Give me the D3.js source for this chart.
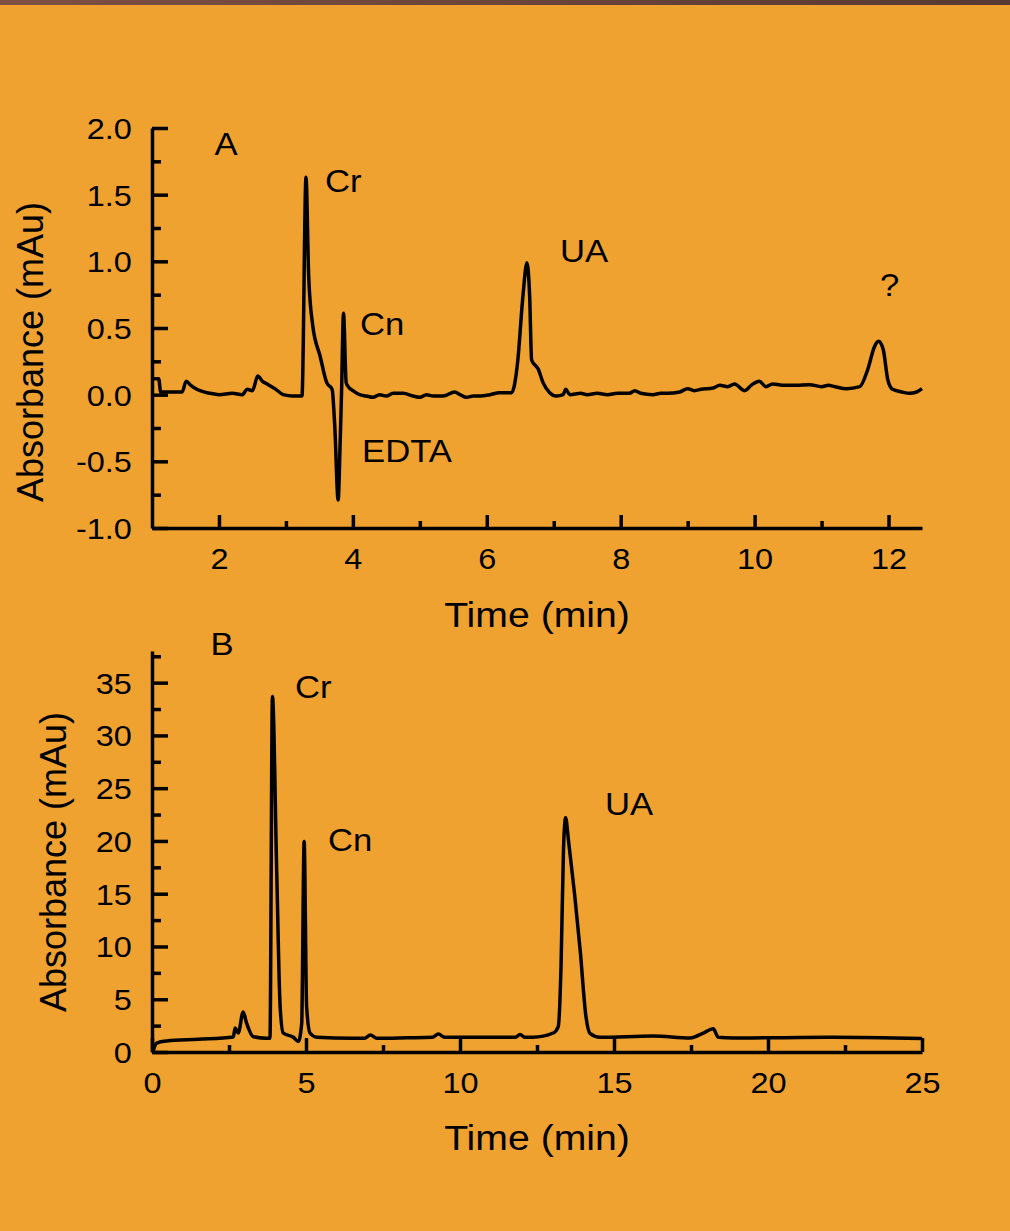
<!DOCTYPE html>
<meta charset="utf-8">
<title>Electropherograms A and B</title>
<style>
    body { margin: 0; background: #efa22f; }
    svg { display: block; }
    text {
        font-family: "Liberation Sans", Arial, sans-serif;
        fill: #000;
    }
    .axis path, .axis line {
        stroke: #000;
        stroke-width: 3.5px;
    }
    .trace {
        fill: none;
        stroke: #000;
        stroke-width: 3.5px;
        stroke-linejoin: round;
    }
</style>

<svg width="1010" height="1231"></svg>

<script src="https://d3js.org/d3.v7.min.js"></script>
<script>

    // panel A (top)
    var timeA = [1.03, 1.1, 1.13, 1.2, 1.35, 1.45, 1.51, 1.58, 1.67, 1.87, 2.0, 2.2, 2.35, 2.42, 2.5, 2.58,
        2.65, 2.72, 2.85, 2.96, 3.1, 3.24, 3.3, 3.34, 3.4, 3.51, 3.61, 3.69, 3.73, 3.78, 3.81, 3.83, 3.86,
        3.9, 3.93, 4.0, 4.1, 4.2, 4.3, 4.4, 4.5, 4.6, 4.75, 4.9, 5.0, 5.1, 5.2, 5.35, 5.52, 5.6, 5.7, 5.8,
        5.9, 6.05, 6.19, 6.37, 6.46, 6.54,
        6.6, 6.64, 6.67, 6.77, 6.84, 6.94, 7.04, 7.14, 7.18, 7.24, 7.4, 7.5, 7.65, 7.8, 7.95, 8.13, 8.21, 8.3,
        8.48, 8.6, 8.7, 8.88, 9.0, 9.1, 9.2, 9.38, 9.48, 9.6, 9.7, 9.85, 9.96, 10.07, 10.17, 10.27, 10.45,
        10.62, 10.82, 11.0, 11.1, 11.2, 11.37, 11.57, 11.69, 11.79, 11.85, 11.92, 11.99, 12.06, 12.2, 12.31,
        12.42, 12.5];
    var absA = [0.12, 0.12, 0.02, 0.02, 0.02, 0.02, 0.1, 0.07, 0.04, 0.01, 0.0, 0.01, 0.0, 0.04, 0.03, 0.14,
        0.1, 0.08, 0.04, 0.0, -0.01, -0.01, 1.63, 0.89, 0.52, 0.29, 0.09, 0.04, -0.24, -0.79, -0.36, 0.0, 0.61,
        0.09, 0.06, 0.03, 0.0, -0.01, -0.02, 0.0, -0.01, 0.01, 0.01, -0.01, -0.02, 0.0, -0.01, -0.01, 0.02,
        0.0, -0.02, -0.01, -0.01, 0.0, 0.015, 0.015, 0.24, 0.74,
        0.99, 0.74, 0.26, 0.19, 0.09, 0.015, -0.01, 0.0, 0.04, 0.0, 0.01, 0.0, 0.01, 0.0, 0.01, 0.01, 0.03,
        0.01, 0.0, 0.01, 0.01, 0.02, 0.045, 0.03, 0.04, 0.05, 0.07, 0.06, 0.08, 0.03, 0.075, 0.1, 0.06, 0.08,
        0.07, 0.07, 0.075, 0.06, 0.07, 0.06, 0.045, 0.06, 0.19, 0.36, 0.4, 0.34, 0.11, 0.04, 0.02, 0.01,
        0.02, 0.045];

    // panel B (bottom)
    var timeB = [0.03, 0.15, 0.48, 1.5, 2.64, 2.7, 2.8, 2.96, 3.07, 3.29, 3.72, 3.83, 3.91, 4.05, 4.16, 4.26,
        4.59, 4.75, 4.86, 4.94, 5.02, 5.13, 5.35, 6.5, 6.9, 7.09, 7.3, 8.3, 9.1, 9.3, 9.5, 10.5, 11.3, 11.8,
        11.95, 12.1, 12.37, 13.03, 13.19, 13.28, 13.36, 13.43, 13.52, 13.9, 14.09, 14.22, 14.55, 16.27,
        17.47, 17.9, 18.22, 18.39, 18.87, 20.5, 22.1, 25.0];
    var absB = [0.0, 0.85, 1.04, 1.2, 1.42, 2.27, 1.8, 3.8, 2.75, 1.45, 1.3, 1.3, 33.7, 17.0, 4.3, 1.8,
        1.4, 1.0, 2.7, 19.95, 4.3, 1.8, 1.4, 1.3, 1.3, 1.6, 1.3, 1.35, 1.4, 1.7, 1.4, 1.4, 1.39, 1.4,
        1.65, 1.4, 1.4, 1.8, 2.4, 8.1, 19.2, 22.2, 20.1, 9.7, 3.35, 1.77, 1.39, 1.52,
        1.33, 1.8, 2.2, 1.39, 1.33, 1.35, 1.39, 1.27];

    var peaksA = [["Cr", 325, 192], ["Cn", 360, 335], ["EDTA", 362, 462], ["UA", 560, 262], ["?", 880, 296]];
    var peaksB = [["Cr", 295, 698], ["Cn", 328, 851], ["UA", 605, 815]];

    var SX = 1.12; // the picture's lettering is a bit wider than Arial

    var svg = d3.select("svg");

    svg.append("rect").attr("width", 1010).attr("height", 1231).attr("fill", "#efa22f");

    var grad = svg.append("defs").append("linearGradient").attr("id", "topbar");
    grad.append("stop").attr("offset", "0").attr("stop-color", "#7f4f43");
    grad.append("stop").attr("offset", "1").attr("stop-color", "#573a31");
    svg.append("rect").attr("width", 1010).attr("height", 5).attr("fill", "url(#topbar)");

    function label(txt, x, y, size, anchor) {
        svg.append("text")
            .attr("transform", "translate(" + x + "," + y + ") scale(" + SX + ",1)")
            .attr("text-anchor", anchor || "start")
            .style("font-size", size + "px")
            .text(txt);
    }

    function panel(opt) {
        var x = d3.scaleLinear().domain(opt.xDomain).range([152, 922]);
        var y = d3.scaleLinear().domain(opt.yDomain).range(opt.yRange);
        var y0 = opt.yRange[0];

        var g = svg.append("g");

        // minor ticks first, so the majors sit on top
        g.append("g").attr("class", "axis")
            .attr("transform", "translate(0," + y0 + ")")
            .call(d3.axisBottom(x).tickValues(opt.xMinor).tickSize(-7).tickSizeOuter(0).tickFormat(""))
            .select(".domain").remove();
        g.append("g").attr("class", "axis")
            .attr("transform", "translate(152,0)")
            .call(d3.axisLeft(y).tickValues(opt.yMinor).tickSize(-9).tickSizeOuter(0).tickFormat(""))
            .select(".domain").remove();

        var gx = g.append("g").attr("class", "axis")
            .attr("transform", "translate(0," + y0 + ")")
            .call(d3.axisBottom(x).tickValues(opt.xMajor).tickSize(-opt.xTick).tickSizeOuter(0).tickFormat(d3.format("d")));
        gx.selectAll("text")
            .attr("y", 41).attr("dy", null)
            .attr("transform", "scale(" + SX + ",1)")
            .style("font-size", "29px");

        var gy = g.append("g").attr("class", "axis")
            .attr("transform", "translate(152,0)")
            .call(d3.axisLeft(y).tickValues(opt.yMajor).tickSize(-16).tickSizeOuter(0).tickFormat(opt.yFormat));
        gy.selectAll("text")
            .attr("x", -18).attr("dy", "0.36em")
            .attr("transform", "scale(" + SX + ",1)")
            .style("font-size", "29px");

        g.selectAll(".axis text").attr("fill", "#000");

        var line = d3.line()
            .x(function (d) { return x(d[0]); })
            .y(function (d) { return y(d[1]); })
            .curve(d3.curveMonotoneX);

        g.append("path")
            .datum(d3.zip(opt.time, opt.abs))
            .attr("class", "trace")
            .attr("d", line);

        label("Time (min)", 537, opt.titleY, 35, "middle");

        svg.append("text")
            .attr("transform", "translate(" + opt.yTitle[0] + "," + opt.yTitle[1] + ") rotate(-90)")
            .attr("text-anchor", "middle")
            .style("font-size", "36px")
            .text("Absorbance (mAu)");

        label(opt.name, opt.nameAt[0], opt.nameAt[1], 31, "middle");
        opt.peaks.forEach(function (p) { label(p[0], p[1], p[2], 31); });
    }

    panel({
        name: "A", nameAt: [226, 155],
        xDomain: [1, 12.5], yDomain: [-1, 2], yRange: [528, 128],
        xMajor: [2, 4, 6, 8, 10, 12], xMinor: [3, 5, 7, 9, 11], xTick: 13,
        yMajor: [-1, -0.5, 0, 0.5, 1, 1.5, 2], yMinor: [-0.75, -0.25, 0.25, 0.75, 1.25, 1.75],
        yFormat: function (d) { return d.toFixed(1); },
        time: timeA, abs: absA, peaks: peaksA,
        titleY: 627, yTitle: [43, 352]
    });

    panel({
        name: "B", nameAt: [222, 655],
        xDomain: [0, 25], yDomain: [0, 38], yRange: [1052, 651],
        xMajor: [0, 5, 10, 15, 20, 25], xMinor: [2.5, 7.5, 12.5, 17.5, 22.5], xTick: 14,
        yMajor: [0, 5, 10, 15, 20, 25, 30, 35], yMinor: [2.5, 7.5, 12.5, 17.5, 22.5, 27.5, 32.5, 37.5],
        yFormat: d3.format("d"),
        time: timeB, abs: absB, peaks: peaksB,
        titleY: 1150, yTitle: [66, 862]
    });

</script>
